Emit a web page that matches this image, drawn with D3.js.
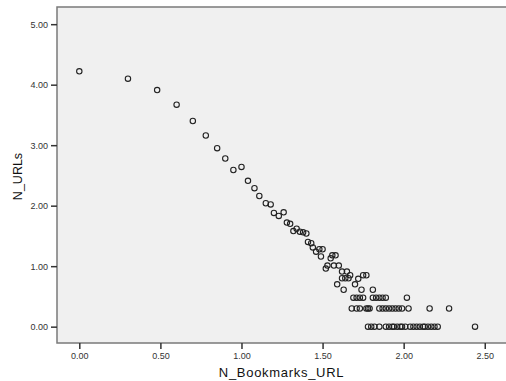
<!DOCTYPE html>
<html>
<head>
<meta charset="utf-8">
<script src="https://cdn.jsdelivr.net/npm/d3@7"></script>
<style>
  body { margin: 0; background: #fff; }
  svg { display: block; }
  .tick text { font-family: "Liberation Sans", Arial, sans-serif; font-size: 9px; fill: #333; }
  .tick line { stroke: #333; stroke-width: 1.5; }
</style>
</head>
<body>
<svg id="chart" width="506" height="381"></svg>
<script>
// log-scaled values
var bookmarks = [
  0.00, 0.30, 0.48, 0.60, 0.70, 0.78, 0.85, 0.90, 0.95, 1.00,
  1.04, 1.08, 1.11, 1.15, 1.18, 1.20, 1.23, 1.26, 1.28, 1.30,
  1.32, 1.34, 1.36, 1.38, 1.40, 1.41, 1.43, 1.44, 1.46, 1.48,
  1.50, 1.49, 1.55, 1.56, 1.58, 1.52, 1.53, 1.57, 1.60, 1.62,
  1.65, 1.67, 1.62, 1.64, 1.66, 1.59, 1.63, 1.70, 1.72, 1.75,
  1.77, 1.74, 1.81,
  1.69, 1.71, 1.73, 1.75, 1.81, 1.83, 1.85, 1.87, 1.89, 2.02,
  1.68, 1.71, 1.73, 1.77, 1.78, 1.79, 1.85, 1.87, 1.89, 1.91,
  1.93, 1.95, 1.97, 1.99, 2.03, 2.16, 2.28,
  1.78, 1.80, 1.82, 1.85, 1.89, 1.91, 1.93, 1.94, 1.96, 1.98,
  1.99, 2.01, 2.04, 2.06, 2.08, 2.10, 2.12, 2.13, 2.15, 2.17,
  2.19, 2.21, 2.44
];
var urls = [
  4.22, 4.10, 3.91, 3.67, 3.40, 3.16, 2.95, 2.78, 2.59, 2.64,
  2.41, 2.29, 2.16, 2.04, 2.02, 1.88, 1.83, 1.89, 1.72, 1.70,
  1.58, 1.62, 1.57, 1.56, 1.54, 1.40, 1.38, 1.31, 1.24, 1.28,
  1.28, 1.16, 1.13, 1.18, 1.18, 0.96, 1.01, 1.01, 1.01, 0.91,
  0.91, 0.85, 0.80, 0.80, 0.80, 0.70, 0.61, 0.70, 0.79, 0.85,
  0.85, 0.61, 0.61,
  0.48, 0.48, 0.48, 0.48, 0.48, 0.48, 0.48, 0.48, 0.48, 0.48,
  0.30, 0.30, 0.30, 0.30, 0.30, 0.30, 0.30, 0.30, 0.30, 0.30,
  0.30, 0.30, 0.30, 0.30, 0.30, 0.30, 0.30,
  0.00, 0.00, 0.00, 0.00, 0.00, 0.00, 0.00, 0.00, 0.00, 0.00,
  0.00, 0.00, 0.00, 0.00, 0.00, 0.00, 0.00, 0.00, 0.00, 0.00,
  0.00, 0.00, 0.00
];
var xTicks = [0, 0.5, 1, 1.5, 2, 2.5];
var yTicks = [0, 1, 2, 3, 4, 5];

var svg = d3.select("#chart");
var plotL = 57, plotR = 506, plotT = 7, plotB = 343;

var x = d3.scaleLinear().domain([-0.1375, 2.631]).range([plotL, plotR]);
var y = d3.scaleLinear().domain([-0.27, 5.284]).range([plotB, plotT]);

svg.append("rect")
  .attr("x", plotL).attr("y", plotT)
  .attr("width", plotR - plotL).attr("height", plotB - plotT)
  .attr("fill", "#f0f0f0");

var pts = bookmarks.map(function (b, i) { return { x: b, y: urls[i] }; });

svg.append("g")
  .selectAll("circle")
  .data(pts)
  .enter()
  .append("circle")
  .attr("cx", function (d) { return x(d.x); })
  .attr("cy", function (d) { return y(d.y); })
  .attr("r", 2.7)
  .attr("fill", "none")
  .attr("stroke", "#222")
  .attr("stroke-width", 1.1);

// frame
svg.append("path")
  .attr("d", "M" + plotR + "," + plotT + "H" + plotL + "V" + plotB + "H" + plotR)
  .attr("fill", "none")
  .attr("stroke", "#7a7a7a")
  .attr("stroke-width", 1.5);

var yAxis = svg.append("g")
  .attr("transform", "translate(" + plotL + ",0)")
  .call(d3.axisLeft(y).tickValues(yTicks).tickFormat(d3.format(".2f")).tickSize(6).tickSizeOuter(0).tickPadding(3));
yAxis.select(".domain").remove();

var xAxis = svg.append("g")
  .attr("transform", "translate(0," + plotB + ")")
  .call(d3.axisBottom(x).tickValues(xTicks).tickFormat(d3.format(".2f")).tickSize(6).tickSizeOuter(0).tickPadding(4));
xAxis.select(".domain").remove();

svg.append("text")
  .attr("transform", "translate(22,176.5) rotate(-90)")
  .attr("text-anchor", "middle")
  .attr("font-family", "Liberation Sans, Arial, sans-serif")
  .attr("font-size", 12.5)
  .attr("fill", "#111")
  .text("N_URLs");

svg.append("text")
  .attr("x", (plotL + plotR) / 2)
  .attr("y", 377)
  .attr("text-anchor", "middle")
  .attr("font-family", "Liberation Sans, Arial, sans-serif")
  .attr("font-size", 13)
  .attr("letter-spacing", 0.7)
  .attr("fill", "#111")
  .text("N_Bookmarks_URL");
</script>
</body>
</html>
